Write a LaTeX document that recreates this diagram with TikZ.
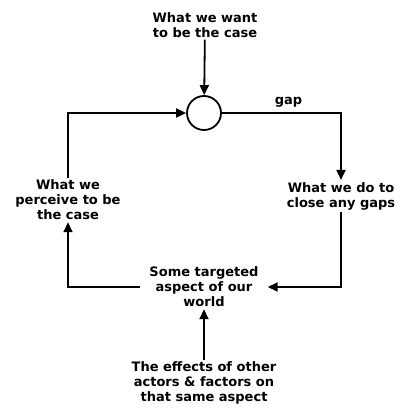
\documentclass[tikz,border=0pt]{standalone}
\usepackage{fontspec}
\setmainfont{DejaVu Sans}
\usetikzlibrary{arrows.meta}

\tikzset{
  lbl/.style={font=\fontsize{13}{15}\selectfont\bfseries, align=center, inner sep=2pt},
  arr/.style={-{Triangle[length=10pt,width=9pt]}, line width=1.8pt}
}

\begin{document}
\begin{tikzpicture}[x=1pt,y=-1pt]
\useasboundingbox (0,0) rectangle (401,414);

\node[lbl] (want) at (205,25) {What we want\\to be the case};
\node[draw, circle, line width=1.8pt, minimum size=34pt, inner sep=0pt] (cmp) at (204,113) {};
\node[lbl] (perc) at (68,200) {What we\\perceive to be\\the case};
\node[lbl] (act) at (341,196) {What we do to\\close any gaps};
\node[lbl, inner xsep=9pt] (world) at (204,287) {Some targeted\\aspect of our\\world};
\node[lbl] (effects) at (204,383) {The effects of other\\actors \& factors on\\that same aspect};

\draw[arr] (want) -- (cmp);
\draw[arr] (perc) |- (cmp);
\draw[arr] (cmp) -| node[lbl, pos=0.28, above=3pt] {gap} (act);
\draw[arr] (act) |- (world);
\draw[arr] (world) -| (perc);
\draw[arr] (effects) -- (world);
\end{tikzpicture}
\end{document}
